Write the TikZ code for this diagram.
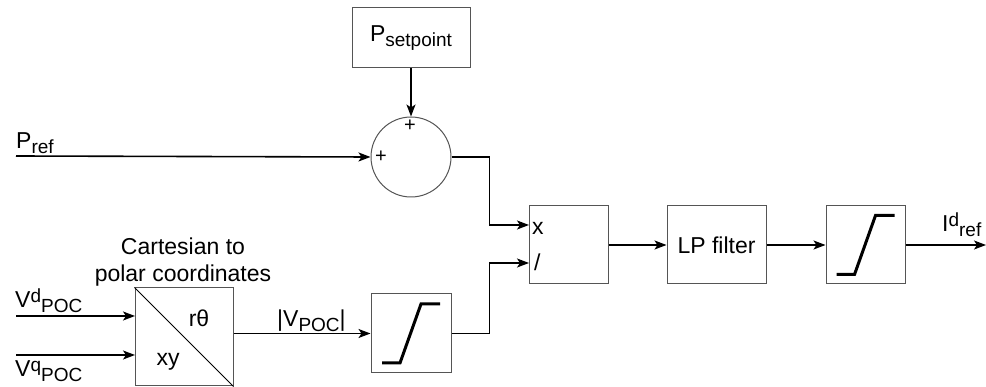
\documentclass[tikz,border=0pt]{standalone}
\usepackage{fontspec}
\setmainfont{Liberation Sans}
\usetikzlibrary{arrows.meta,calc}
\definecolor{box_gray}{RGB}{85,85,85}
\newcommand{\lowsub}[1]{\raisebox{-5pt}{\fontsize{19}{20}\selectfont #1}}
\newcommand{\highsup}[1]{\raisebox{5pt}{\fontsize{19}{20}\selectfont #1}}
\tikzstyle{blk}=[rectangle,draw=box_gray,line width=1pt,fill=white,
  inner sep=0pt,minimum width=79pt,minimum height=78pt]
\tikzstyle{sumn}=[circle,draw=box_gray,line width=1pt,fill=white,
  inner sep=0pt,minimum size=80pt]
\tikzstyle{sig}=[line width=1.6pt,-{Stealth[length=12pt,width=9pt,inset=3pt]}]
\tikzstyle{lbl}=[inner sep=0pt,anchor=base west]
\tikzstyle{sat}=[line width=3pt]
\tikzstyle{none}=[]

\begin{document}
\begin{tikzpicture}[x=1pt,y=-1pt,font=\fontsize{23}{27}\selectfont]
            \useasboundingbox (0,0) rectangle (986,387);
            % blocks
            \node [style=blk,minimum width=118pt,minimum height=60pt] (set) at (411, 38) {P\lowsub{setpoint}};
            \node [style=sumn] (sum) at (411, 157) {};
            \node [style=blk] (mult) at (568.5, 245) {};
            \node [style=blk,minimum width=99pt] (lp) at (716.5, 245) {LP filter};
            \node [style=blk] (sat2) at (865.5, 245) {};
            \node [style=blk,minimum width=98pt,minimum height=98pt] (cart) at (184, 337) {};
            \node [style=blk,minimum width=80pt,minimum height=79pt] (sat1) at (411, 333.5) {};
            % free ends
            \coordinate (pin) at (16, 156);
            \coordinate (vdin) at (16, 316);
            \coordinate (vqin) at (16, 355);
            \coordinate (vd) at (135, 316);
            \coordinate (vq) at (135, 355);
            \coordinate (mx) at (529, 225);
            \coordinate (md) at (529, 263);
            \coordinate (out) at (986, 245);
            % texts
            \node [style=none,font=\fontsize{20}{22}\selectfont] (p1) at (410, 126) {+};
            \node [style=none,font=\fontsize{20}{22}\selectfont] (p2) at (381, 157) {+};
            \node [style=lbl] (l1) at (16, 149) {P\lowsub{ref}};
            \node [style=lbl] (l2) at (15, 308) {V\highsup{d}\lowsub{POC}};
            \node [style=lbl] (l3) at (15, 377) {V\highsup{q}\lowsub{POC}};
            \node [style=lbl] (l4) at (277, 327) {|V\lowsub{POC}|};
            \node [style=lbl] (l5) at (942, 232) {I\highsup{d}\lowsub{ref}};
            \node [style=none,align=center] (l6) at (183, 262) {Cartesian to\\polar coordinates};
            \node [style=lbl] (l7) at (532, 235) {x};
            \node [style=lbl] (l8) at (534, 271) {/};
            \node [style=none] (l9) at (199, 318) {rθ};
            \node [style=none] (l10) at (168, 362) {xy};
            % connectors
            \draw [style=sig] (set) to (sum);
            \draw [style=sig] (pin) to (sum.west);
            \draw [style=sig] (sum.east) -- ++(38, 0) |- (mx);
            \draw [style=sig] (sat1.east) -- ++(38, 0) |- (md);
            \draw [style=sig] (mult) to (lp);
            \draw [style=sig] (lp) to (sat2);
            \draw [style=sig] (sat2) to (out);
            \draw [style=sig] (vdin) to (vd);
            \draw [style=sig] (vqin) to (vq);
            \draw [style=sig] (cart.east |- sat1) to (sat1);
            \draw [line width=0.8pt] (cart.north west) to (cart.south east);
            % saturation curves
            \draw [style=sat] ($(sat1.center)+(-29, 29.5)$) -- ++(18, 0) -- ++(21, -59) -- ++(19, 0);
            \draw [style=sat] ($(sat2.center)+(-29, 29.5)$) -- ++(18, 0) -- ++(21, -59) -- ++(19, 0);
    \end{tikzpicture}
\end{document}
